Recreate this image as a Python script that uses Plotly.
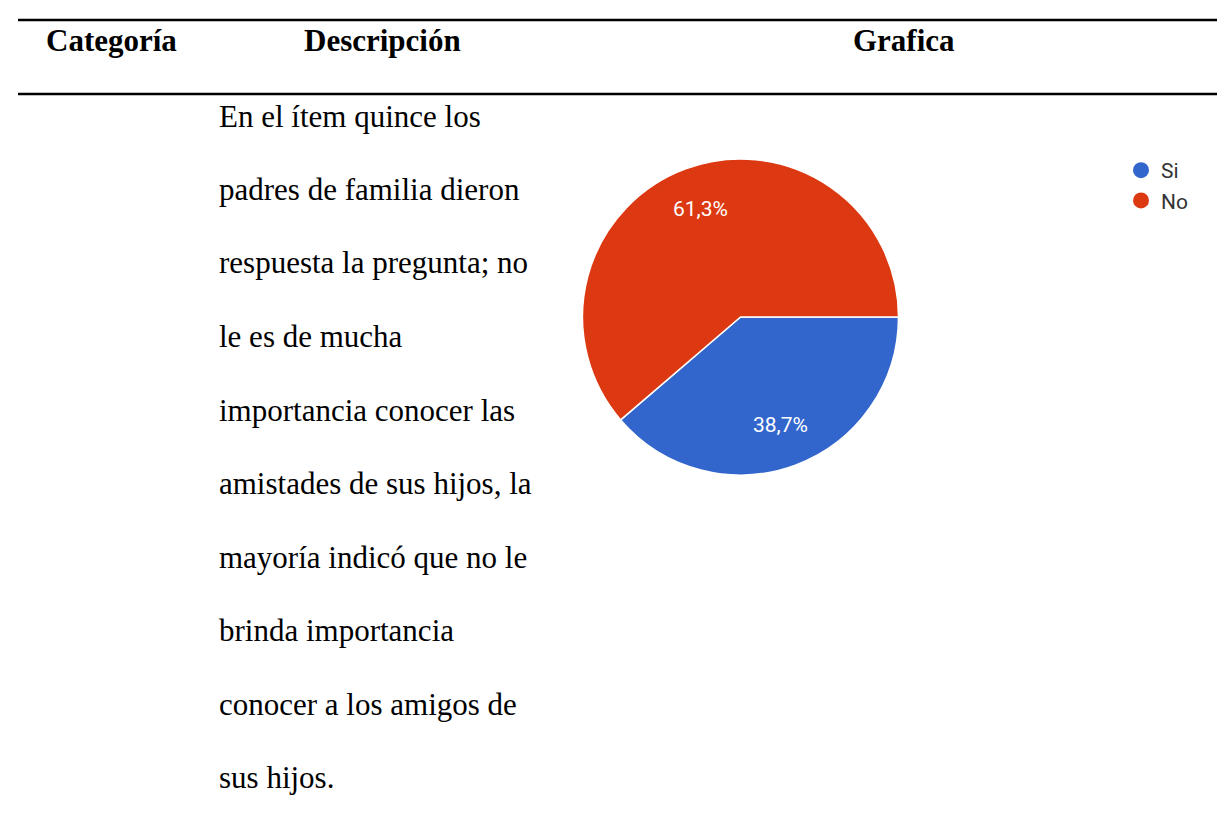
import math
import plotly.graph_objects as go

# ---- data ----
headers = ["Categoría", "Descripción", "Grafica"]
description_lines = [
    "En el ítem quince los",
    "padres de familia dieron",
    "respuesta la pregunta; no",
    "le es de mucha",
    "importancia conocer las",
    "amistades de sus hijos, la",
    "mayoría indicó que no le",
    "brinda importancia",
    "conocer a los amigos de",
    "sus hijos.",
]
labels = ["Si", "No"]
counts = [12, 19]          # 38,7 % / 61,3 %
colors = ["#3366CC", "#DC3912"]

W, H = 1225, 818

def px(x):
    return x / W

def py(y):
    return 1 - y / H

fig = go.Figure()

# pie geometry (pixels)
cx, cy, r = 732.5, 309, 158
start_deg = 90          # first slice starts at 3 o'clock, clockwise
fig.add_trace(go.Pie(
    labels=labels,
    values=counts,
    sort=False,
    direction="clockwise",
    rotation=start_deg,
    marker=dict(colors=colors, line=dict(color="white", width=1.5)),
    textinfo="none",
    showlegend=False,
    hoverinfo="label+percent",
    domain=dict(x=[px(cx - r), px(cx + r)], y=[py(cy + r), py(cy - r)]),
))

# slice labels placed along each slice bisector (Google-Forms style)
total = sum(counts)
acc = 0
for lab, v in zip(labels, counts):
    mid = start_deg + 360 * (acc + v / 2) / total
    acc += v
    d = 0.73 * r
    lx = cx + d * math.sin(math.radians(mid))
    ly = cy - d * math.cos(math.radians(mid))
    pct = f"{100 * v / total:.1f}".replace(".", ",") + "%"
    fig.add_annotation(
        x=px(lx), y=py(ly), xref="paper", yref="paper",
        xanchor="center", yanchor="middle", showarrow=False,
        text=pct,
        font=dict(family="Roboto, Arial, sans-serif", size=21, color="white"),
    )

# legend entries with circular markers
for lab, col in zip(labels, colors):
    fig.add_trace(go.Scatter(
        x=[None], y=[None], mode="markers", name=lab,
        marker=dict(symbol="circle", size=16, color=col),
        showlegend=True,
    ))

# header texts
header_x = [36, 294, 843]
for txt, x in zip(headers, header_x):
    fig.add_annotation(
        x=px(x), y=py(33), xref="paper", yref="paper",
        xanchor="left", yanchor="middle", showarrow=False,
        text=f"<b>{txt}</b>",
        font=dict(family="Liberation Serif, Times New Roman, serif", size=31, color="black"),
    )

# description lines
for i, line in enumerate(description_lines):
    fig.add_annotation(
        x=px(209), y=py(108 + 73.5 * i), xref="paper", yref="paper",
        xanchor="left", yanchor="middle", showarrow=False,
        text=line,
        font=dict(family="Liberation Serif, Times New Roman, serif", size=31, color="black"),
    )

# horizontal rules
for yline in (12, 86):
    fig.add_shape(type="line", xref="paper", yref="paper",
                  x0=px(10), x1=1, y0=py(yline), y1=py(yline),
                  line=dict(color="black", width=2.5))

fig.update_layout(
    width=W, height=H,
    margin=dict(l=0, r=0, t=0, b=0),
    paper_bgcolor="white", plot_bgcolor="white",
    separators=",.",
    xaxis=dict(visible=False), yaxis=dict(visible=False),
    legend=dict(
        x=px(1113), y=py(142), xanchor="left", yanchor="top",
        font=dict(family="Roboto, Arial, sans-serif", size=21, color="#333333"),
        bgcolor="rgba(0,0,0,0)", itemwidth=30, tracegroupgap=0,
    ),
)

fig.write_html("out.html")
